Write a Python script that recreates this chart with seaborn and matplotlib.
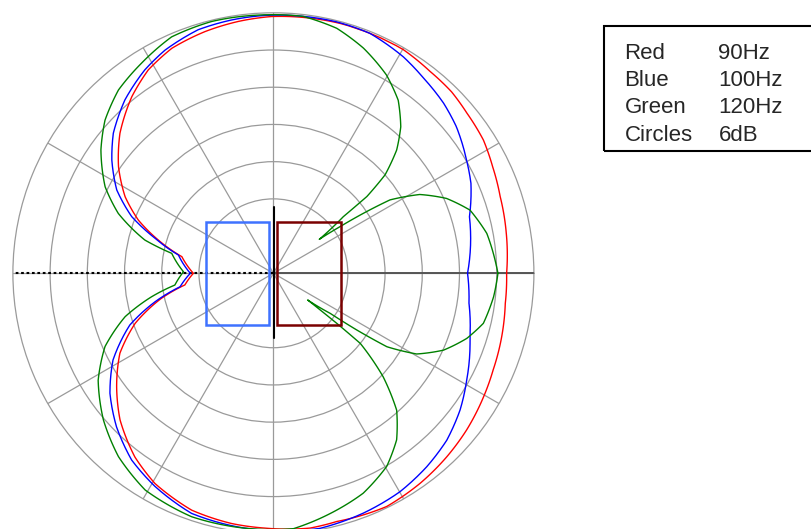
import numpy as np
import matplotlib
matplotlib.use("Agg")
import matplotlib.pyplot as plt
import seaborn as sns
from matplotlib.patches import Rectangle

# polar response of a cardioid sub setup, angle in degrees (0 = front, ccw), level in dB
red_deg = [0, 9.8, 18.7, 25.9, 32.4, 39.6, 45.5, 52.2, 59.8, 75, 90.4, 97.9, 105.8, 114.3,
           121.6, 128.7, 137.6, 145.5, 152.7, 158.5, 163.9, 169.7, 180, 187.5, 192.6, 199.9,
           207.5, 215.9, 223.7, 233, 240.6, 251, 260.5, 268, 278.2, 284.3, 295.9, 305, 313.4,
           321, 329.6, 336.3, 344.5, 352.6, 360]
red_db = [-4.4, -3.9, -3.4, -2.7, -1.9, -1.5, -1.0, -0.8, -0.3, -0.3, -0.6, -1.0, -1.5, -2.2,
          -3.5, -5.5, -8.5, -11.7, -15.1, -18.6, -22.7, -27.0, -29.1, -27.6, -23.5, -18.3,
          -14.1, -10.8, -7.8, -4.9, -3.1, -1.6, -1.1, -0.9, -0.5, -0.7, -0.2, -0.7, -1.3,
          -1.9, -2.7, -3.3, -3.8, -4.3, -4.4]

blue_deg = [0, 16.1, 24.5, 30.4, 38.7, 45, 52.4, 59, 68.1, 76, 91.9, 99.3, 107.2, 115.9, 122.3,
            130.6, 138.8, 145, 152, 158.2, 163.5, 169.1, 180, 188.2, 193.5, 199.8, 208.4, 216.3,
            224.4, 232.8, 240.9, 251.2, 262.1, 280.4, 290.5, 300.1, 308.4, 316.1, 323.8, 331.1,
            342.1, 351.3, 360]
blue_db = [-10.7, -9.1, -7.0, -5.9, -4.2, -3.2, -2.3, -1.3, -0.3, -0.2, -0.4, -0.6, -0.9, -2.0,
           -3.2, -5.2, -7.7, -10.2, -13.4, -17.4, -22.1, -26.4, -28.6, -26.8, -22.4, -17.4,
           -12.6, -9.3, -6.6, -4.2, -2.7, -1.1, -0.7, -0.2, -0.7, -1.3, -2.2, -3.2, -4.7,
           -6.4, -8.7, -10.1, -10.7]

green_deg = [0, 3.4, 10.6, 17.8, 23.4, 28.3, 32.2, 33.7, 35, 36.5, 39, 39.4, 41.4, 45, 49, 54.2,
             60.3, 68.2, 75.5, 83.4, 93.3, 103.8, 113.3, 122.1, 130.2, 137.7, 144.4, 152.8,
             158.9, 165.5, 168.9, 179, 186.8, 190.9, 196.3, 203.5, 211.4, 220.8, 229.8, 239.4,
             251.4, 274.5, 283.3, 292.2, 300.4, 306.5, 312, 316.7, 321.1, 321.7, 322.1, 324.8,
             325.8, 327.1, 330.6, 335.7, 341.4, 346.6, 353.9, 360]
green_db = [-5.8, -6.2, -7.0, -8.7, -11.6, -15.2, -19.8, -24.6, -28.9, -32.8, -27.5, -22.5, -18.0,
            -13.9, -10.7, -7.6, -5.2, -2.9, -1.2, -0.3, -0.3, -0.2, -0.5, -2.0, -3.3, -5.3,
            -7.8, -11.5, -15.2, -20.6, -25.3, -27.5, -26.0, -22.0, -17.1, -12.4, -8.9, -5.8,
            -3.3, -1.4, -0.6, -0.7, -2.2, -3.7, -5.9, -8.6, -12.3, -17.7, -24.0, -29.0, -35.0,
            -30.8, -25.7, -20.2, -15.5, -11.9, -9.1, -7.2, -6.3, -5.8]

legend_names = ["Red", "Blue", "Green", "Circles"]
legend_values = ["90Hz", "100Hz", "120Hz", "6dB"]

# scale: circles every 6 dB, outer circle 0 dB
ring_db = [-30, -24, -18, -12, -6]
db_floor = -42

# cabinets drawn in the middle (pixels from the centre)
blue_box = (-67.1, -51.4, 63.0, 102.8)
red_box = (3.9, -51.4, 63.4, 102.8)
baffle_x = 0.9
baffle_y = (-64.4, 66.6)

sns.set_style("white")
plt.rcParams['font.family'] = ['Liberation Sans', 'DejaVu Sans']

fig = plt.figure(figsize=(8.12, 5.29), dpi=100)
R = 260.5  # radius in px
cx, cy = 273.4, 529 - 273.3
rect = [(cx - R) / 812, (cy - R) / 529, 2 * R / 812, 2 * R / 529]

ax = fig.add_axes(rect, projection='polar')
grid_col = '#9a9a9a'

for deg, db, col in [(red_deg, red_db, 'red'), (blue_deg, blue_db, 'blue'),
                     (green_deg, green_db, 'green')]:
    sns.lineplot(x=np.deg2rad(deg), y=db, ax=ax, sort=False, estimator=None,
                 color=col, lw=1.0, zorder=5)

# let the polar transform draw each segment as a curve, not a chord
for line in ax.lines:
    line.get_path()._interpolation_steps = 24

ax.set_ylim(db_floor, 0)
ax.set_thetagrids(range(0, 360, 30))
ax.set_rgrids(ring_db)
ax.set_xticklabels([])
ax.set_yticklabels([])
ax.set_xlabel('')
ax.set_ylabel('')
ax.grid(True, color=grid_col, lw=0.9)
ax.spines['polar'].set_color(grid_col)
ax.spines['polar'].set_linewidth(0.9)
ax.tick_params(length=0)
ax.patch.set_alpha(0)

# front axis darker, rear axis dotted
ax.plot([0, 0], [db_floor, 0], color='#555555', lw=1.4, zorder=3)
ax.plot([np.pi, np.pi], [db_floor, 0], color='black', lw=1.5, ls=(0, (1.3, 1.3)), zorder=3)

# overlay for the cabinets, 1 unit = 1 px
ov = fig.add_axes(rect)
ov.set_xlim(-R, R)
ov.set_ylim(-R, R)
ov.axis('off')
ov.patch.set_alpha(0)
ov.add_patch(Rectangle(blue_box[:2], blue_box[2], blue_box[3], fill=False,
                       ec='#3f72ff', lw=1.8))
ov.add_patch(Rectangle(red_box[:2], red_box[2], red_box[3], fill=False,
                       ec='#7a0000', lw=1.8))
ov.plot([baffle_x, baffle_x], baffle_y, color='black', lw=1.5)

# legend box
fig.patches.append(Rectangle((604 / 812, 1 - 151 / 529), 0.3, 125.5 / 529, fill=False,
                             ec='black', lw=1.5, transform=fig.transFigure, figure=fig))
for i, (name, val) in enumerate(zip(legend_names, legend_values)):
    yb = 1 - (59.3 + 27.07 * i) / 529
    fig.text(624.5 / 812, yb, name, fontsize=16, va='baseline', ha='left')
    fig.text(718.5 / 812, yb, val, fontsize=16, va='baseline', ha='left')

fig.savefig('out.png', dpi=100)
